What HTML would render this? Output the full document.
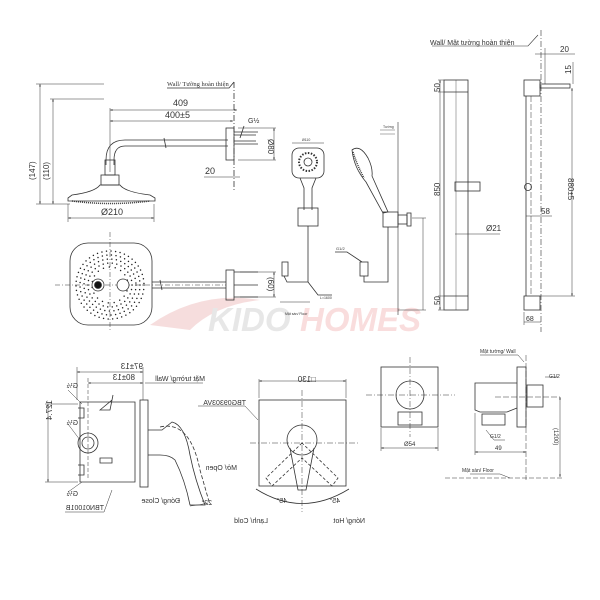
<!DOCTYPE html>
<html><head><meta charset="utf-8"><style>
html,body{margin:0;padding:0;background:#fff;}
svg{display:block;}
text{font-family:"Liberation Sans","DejaVu Sans",sans-serif;fill:#333;}
</style></head><body>
<svg width="600" height="600" viewBox="0 0 600 600" xmlns="http://www.w3.org/2000/svg">
<defs>
<marker id="a" viewBox="0 0 6 6" refX="6" refY="3" markerWidth="5" markerHeight="5" orient="auto-start-reverse"><path d="M0,1 L6,3 L0,5" fill="#333"/></marker>
</defs>
<!-- watermark -->
<g opacity="0.35">
<path d="M150,325 Q200,290 260,300 Q215,305 190,330 Z" fill="#e8a0a0"/>
<text x="208" y="331" font-size="33" font-style="italic" font-weight="bold" style="fill:#bbbbbb">KIDO</text>
<text x="300" y="331" font-size="33" font-style="italic" font-weight="bold" style="fill:#eea0a0">HOMES</text>
</g>
<g fill="none" stroke="#333" stroke-width="0.8">
<!-- ===== Rain shower side ===== -->
<line x1="234" y1="82" x2="234" y2="192" stroke-dasharray="6 2 1 2"/>
<path d="M167,88 L229,88 L234,82"/>
<line x1="110" y1="108" x2="110" y2="172" stroke-width="0.5"/>
<line x1="110" y1="110" x2="237" y2="110" marker-start="url(#a)" marker-end="url(#a)" stroke-width="0.5"/>
<line x1="110" y1="121" x2="233" y2="121" marker-start="url(#a)" marker-end="url(#a)" stroke-width="0.5"/>
<path d="M228,140 L125,140 Q106,140 106,160 L106,165 M228,146 L125,146 Q114,146 114,160 L114,165"/>
<path d="M164,138 L166,148"/>
<rect x="226" y="128" width="8" height="32"/>
<path d="M234,132 L258,132 M234,144 L258,144 M234,135 L256,135 M234,141 L256,141"/>
<path d="M244,126 L240,138"/>
<line x1="238" y1="128" x2="276" y2="128" stroke-width="0.5"/>
<line x1="238" y1="160" x2="276" y2="160" stroke-width="0.5"/>
<line x1="274" y1="128" x2="274" y2="160" marker-start="url(#a)" marker-end="url(#a)" stroke-width="0.5"/>
<line x1="204" y1="177" x2="240" y2="177" stroke-width="0.5"/>
<rect x="105" y="160" width="10" height="15"/>
<rect x="101" y="175" width="18" height="10"/>
<path d="M100,185 L120,185 Q125,192 150,195 L155,198 L155,201 L68,201 L68,198 L72,195 Q95,192 100,185 Z"/>
<path d="M72,201 Q110,206 150,201" stroke-dasharray="1 1" stroke-width="1.5"/>
<line x1="68" y1="204" x2="68" y2="222" stroke-width="0.5"/>
<line x1="154" y1="204" x2="154" y2="222" stroke-width="0.5"/>
<line x1="68" y1="218" x2="154" y2="218" marker-start="url(#a)" marker-end="url(#a)" stroke-width="0.5"/>
<line x1="36" y1="84" x2="104" y2="84" stroke-width="0.5"/>
<line x1="50" y1="99" x2="104" y2="99" stroke-width="0.5"/>
<line x1="36" y1="204" x2="70" y2="204" stroke-width="0.5"/>
<line x1="40" y1="84" x2="40" y2="204" marker-start="url(#a)" marker-end="url(#a)" stroke-width="0.5"/>
<line x1="53" y1="99" x2="53" y2="204" marker-start="url(#a)" marker-end="url(#a)" stroke-width="0.5"/>
<!-- rain bottom view -->
<rect x="70" y="243" width="82" height="82" rx="18"/>
<line x1="110" y1="232" x2="110" y2="332" stroke-dasharray="5 2 1 2" stroke-width="0.5"/>
<line x1="55" y1="285" x2="226" y2="285" stroke-dasharray="5 2 1 2" stroke-width="0.5"/>
<g stroke-width="1.5" stroke-linecap="round" stroke="#222">
<circle cx="110" cy="285" r="34" stroke-dasharray="0 4.6"/>
<circle cx="110" cy="285" r="30" stroke-dasharray="0 4.6"/>
<circle cx="110" cy="285" r="26" stroke-dasharray="0 4.6"/>
<circle cx="110" cy="285" r="22" stroke-dasharray="0 4.6"/>
<circle cx="110" cy="285" r="18" stroke-dasharray="0 6"/>
</g>
<circle cx="98" cy="285" r="6" fill="#fff"/><circle cx="98" cy="285" r="3.5" fill="#111"/>
<circle cx="123" cy="285" r="6" fill="#fff"/>
<path d="M152,282 L226,282 M152,288 L226,288 M160,280 L162,290"/>
<rect x="226" y="270" width="8" height="30"/>
<path d="M234,272 L258,272 M234,285 L258,285 M234,297 L258,297"/>
<line x1="240" y1="272" x2="276" y2="272" stroke-width="0.5"/>
<line x1="240" y1="297" x2="276" y2="297" stroke-width="0.5"/>
<line x1="274" y1="272" x2="274" y2="297" marker-start="url(#a)" marker-end="url(#a)" stroke-width="0.5"/>
<!-- ===== Hand shower front ===== -->
<rect x="292" y="148" width="32" height="30" rx="7"/>
<circle cx="308" cy="162" r="9" stroke-dasharray="1.5 1.5" stroke-width="2"/>
<circle cx="308" cy="162" r="4"/>
<path d="M300,178 L304,188 L304,210 M316,178 L312,188 L312,210"/>
<rect x="298" y="208" width="20" height="18"/>
<path d="M308,226 L308,282 L287,282 L284,276 M308,282 L318,295 L332,295"/>
<rect x="282" y="262" width="6" height="14"/>
<line x1="292" y1="143" x2="324" y2="143" stroke-width="0.5"/>
<line x1="280" y1="302" x2="310" y2="302" stroke-width="0.5"/>
<!-- side hand shower -->
<path d="M352,150 Q360,144 368,158 Q373,168 372,176 L388,212 L383,213 L366,182 Q354,168 352,150 Z"/>
<path d="M353,152 Q357,165 364,178" stroke-width="1.5" stroke-dasharray="1 1"/>
<rect x="383" y="212" width="15" height="15"/>
<rect x="398" y="215" width="9" height="9"/>
<rect x="407" y="213" width="4" height="13"/>
<line x1="398" y1="122" x2="398" y2="315" stroke-width="0.6"/>
<path d="M388,227 L388,282 L364,282 L364,276"/>
<rect x="360" y="262" width="8" height="14"/>
<path d="M335,252 L347,252 L362,262"/>
<line x1="412" y1="218" x2="426" y2="218" stroke-width="0.5"/>
<line x1="423" y1="218" x2="423" y2="310" stroke-width="0.5"/>
<line x1="398" y1="310" x2="426" y2="310" stroke-width="0.5"/>
<path d="M380,130 L395,130 M380,134 L395,134" stroke-width="0.4"/>
<!-- ===== Slide bar front ===== -->
<rect x="444" y="80" width="24" height="230"/>
<line x1="444" y1="92" x2="468" y2="92"/>
<line x1="444" y1="296" x2="468" y2="296"/>
<line x1="456" y1="80" x2="456" y2="310" stroke-width="0.4"/>
<rect x="455" y="182" width="25" height="9"/>
<path d="M444,80 L438,80 M444,92 L438,92 M444,296 L438,296 M444,310 L438,310" stroke-width="0.5"/>
<line x1="440" y1="80" x2="440" y2="310" stroke-width="0.5" marker-start="url(#a)" marker-end="url(#a)"/>
<line x1="455" y1="234" x2="500" y2="234" stroke-width="0.5"/>
<!-- slide bar side -->
<line x1="541" y1="30" x2="541" y2="332" stroke-dasharray="6 2 1 2" stroke-width="0.6"/>
<path d="M432,46 L528,46 L538,35" stroke-width="0.6"/>
<rect x="524" y="80" width="16" height="16"/>
<rect x="524" y="296" width="16" height="14"/>
<line x1="526" y1="96" x2="526" y2="296"/><line x1="531" y1="96" x2="531" y2="296" stroke-dasharray="6 2" stroke-width="0.5"/>
<circle cx="528" cy="187" r="3.5"/>
<rect x="540" y="84" width="30" height="4"/>
<line x1="540" y1="296" x2="575" y2="296" stroke-width="0.5"/>
<line x1="572" y1="88" x2="572" y2="296" marker-start="url(#a)" marker-end="url(#a)" stroke-width="0.5"/>
<line x1="573" y1="62" x2="573" y2="84" stroke-width="0.5"/>
<line x1="535" y1="54" x2="575" y2="54" stroke-width="0.5"/>
<line x1="545" y1="48" x2="545" y2="84" stroke-width="0.5"/>
<line x1="526" y1="216" x2="552" y2="216" stroke-width="0.5"/>
<line x1="524" y1="312" x2="524" y2="325" stroke-width="0.5"/>
<line x1="524" y1="322" x2="541" y2="322" stroke-width="0.5"/>
<!-- ===== Valve side ===== -->
<line x1="77" y1="367" x2="77" y2="400" stroke-width="0.5"/>
<line x1="143" y1="367" x2="143" y2="400" stroke-width="0.5"/>
<line x1="88" y1="378" x2="88" y2="480" stroke-width="0.5" stroke-dasharray="4 2"/>
<line x1="77" y1="372" x2="143" y2="372" marker-start="url(#a)" marker-end="url(#a)" stroke-width="0.5"/>
<line x1="88" y1="383" x2="143" y2="383" marker-start="url(#a)" marker-end="url(#a)" stroke-width="0.5"/>
<line x1="145" y1="383" x2="203" y2="383" stroke-width="0.5"/>
<path d="M80,402 L135,402 L135,482 L80,482 Z"/>
<path d="M78,408 L84,408 L84,418 L78,418 M78,465 L84,465 L84,475 L78,475"/>
<path d="M100,410 L112,400 L113,395 L110,410 Z M100,458 L112,458 L112,463 L100,463 Z"/>
<rect x="140" y="400" width="8" height="87"/>
<circle cx="88" cy="443" r="10"/><circle cx="88" cy="443" r="6"/>
<path d="M148,430 L162,430 L172,422 Q185,425 190,455 Q195,480 205,505 L190,505 Q185,480 175,460 Q170,455 160,455 L148,455"/>
<path d="M160,427 Q190,420 200,470 L210,505" stroke-dasharray="4 2"/>
<line x1="45" y1="404" x2="78" y2="404" stroke-width="0.5"/>
<line x1="45" y1="482" x2="78" y2="482" stroke-width="0.5"/>
<line x1="48" y1="404" x2="48" y2="482" marker-start="url(#a)" marker-end="url(#a)" stroke-width="0.5"/>
<path d="M68,390 L82,404 M68,424 L80,440 M68,492 L82,482 M65,512 L104,512 L112,490" stroke-width="0.5"/>
<path d="M190,506 Q200,505 208,503" stroke-width="0.5"/>
<!-- valve front -->
<rect x="259" y="400" width="87" height="86"/>
<line x1="259" y1="381" x2="346" y2="381" marker-start="url(#a)" marker-end="url(#a)" stroke-width="0.5"/>
<line x1="259" y1="379" x2="259" y2="398" stroke-width="0.5"/><line x1="346" y1="379" x2="346" y2="398" stroke-width="0.5"/>
<path d="M198,406 L245,406 L258,420" stroke-width="0.5"/>
<line x1="302" y1="390" x2="302" y2="512" stroke-dasharray="6 2 1 2" stroke-width="0.5"/>
<line x1="250" y1="443" x2="360" y2="443" stroke-dasharray="6 2 1 2" stroke-width="0.5"/>
<circle cx="302" cy="440" r="15"/>
<path d="M290,448 L298,490 L306,490 L314,448"/>
<path d="M302,443 L266,478 L272,486 L302,458 L332,486 L338,478 Z" stroke-dasharray="3 2"/>
<path d="M256,489 Q302,518 349,489" />
<!-- wall outlet front -->
<rect x="381" y="367" width="57" height="60"/>
<line x1="410" y1="357" x2="410" y2="437" stroke-dasharray="6 2 1 2" stroke-width="0.5"/>
<line x1="366" y1="395" x2="455" y2="395" stroke-dasharray="6 2 1 2" stroke-width="0.5"/>
<circle cx="410" cy="395" r="14"/>
<rect x="398" y="412" width="24" height="13"/>
<line x1="381" y1="428" x2="381" y2="451" stroke-width="0.5"/><line x1="438" y1="428" x2="438" y2="451" stroke-width="0.5"/>
<line x1="381" y1="448" x2="438" y2="448" marker-start="url(#a)" marker-end="url(#a)" stroke-width="0.5"/>
<!-- wall outlet side -->
<rect x="517" y="367" width="9" height="60"/>
<line x1="526" y1="355" x2="526" y2="480" stroke-dasharray="6 2" stroke-width="0.5"/>
<path d="M517,383 L475,383 L475,410 L480,412 L507,412 L517,408"/>
<rect x="482" y="414" width="23" height="11"/>
<rect x="527" y="385" width="16" height="22"/>
<path d="M480,355 L518,355 L524,362 M545,377 L558,377 M486,430 L494,440 L505,440 M470,474 L500,474 L510,478" stroke-width="0.5"/>
<line x1="495" y1="397" x2="560" y2="397" stroke-dasharray="6 2" stroke-width="0.5"/>
<line x1="445" y1="478" x2="563" y2="478" stroke-dasharray="5 2" stroke-width="0.5"/>
<line x1="560" y1="397" x2="560" y2="477" marker-start="url(#a)" marker-end="url(#a)" stroke-width="0.5"/>
<line x1="475" y1="413" x2="475" y2="455" stroke-width="0.5"/>
<line x1="475" y1="452" x2="526" y2="452" marker-start="url(#a)" marker-end="url(#a)" stroke-width="0.5"/>
</g>
<!-- texts -->
<g font-size="9">
<text x="167" y="86" font-size="6.5" style="font-family:'Liberation Serif',serif">Wall/ Tường hoàn thiện</text>
<text x="173" y="106">409</text>
<text x="165" y="118">400±5</text>
<text x="248" y="123" font-size="7">G½</text>
<text x="205" y="174">20</text>
<text x="101" y="215">Ø210</text>
<text transform="translate(35,180) rotate(-90)" font-size="8">(147)</text>
<text transform="translate(49,180) rotate(-90)" font-size="8">(110)</text>
<text transform="translate(268,139) rotate(90)" font-size="8">Ø80</text>
<text transform="translate(268,277) rotate(90)" font-size="8">(60)</text>
<text x="302" y="141" font-size="3.5">Ø110</text>
<text x="320" y="299" font-size="3.5">L=1600</text>
<text x="285" y="315" font-size="3.5">Mặt sàn/ Floor</text>
<text x="336" y="250" font-size="4">G1/2</text>
<text x="383" y="128" font-size="3.5">Tường</text>
<text x="430" y="45" font-size="7">Wall/ Mặt tường hoàn thiện</text>
<text transform="translate(440,92) rotate(-90)" font-size="8">50</text>
<text transform="translate(440,196) rotate(-90)" font-size="8">850</text>
<text transform="translate(440,305) rotate(-90)" font-size="8">50</text>
<text x="486" y="231" font-size="8">Ø21</text>
<text x="560" y="52" font-size="8">20</text>
<text transform="translate(571,74) rotate(-90)" font-size="8">15</text>
<text transform="translate(568,178) rotate(90)" font-size="8">880±5</text>
<text x="541" y="214" font-size="8">58</text>
<text x="526" y="321" font-size="7">68</text>
<g transform="scale(-1,1)">
<text x="-143" y="369" font-size="8">97±13</text>
<text x="-135" y="380" font-size="8">80±13</text>
<text x="-205" y="381" font-size="7">Mặt tường/ Wall</text>
<text x="-78" y="388" font-size="7">G½</text>
<text x="-78" y="425" font-size="7">G½</text>
<text x="-78" y="496" font-size="7">G½</text>
<text x="-104" y="510" font-size="7">TBN01001B</text>
<text x="-237" y="470" font-size="7">Mở/ Open</text>
<text x="-180" y="503" font-size="7">Đóng/ Close</text>
<text x="-212" y="505" font-size="7">22°</text>
<text x="-316" y="382" font-size="8">□130</text>
<text x="-246" y="405" font-size="7">TBG09303VA</text>
<text x="-287" y="503" font-size="7">45°</text>
<text x="-340" y="503" font-size="7">45°</text>
<text x="-268" y="523" font-size="7">Lạnh/ Cold</text>
<text x="-365" y="523" font-size="7">Nóng/ Hot</text>
</g>
<text transform="translate(52,420) rotate(-90) scale(-1,1)" font-size="8" x="-20">127.4</text>
<text x="480" y="353" font-size="5">Mặt tường/ Wall</text>
<text x="549" y="378" font-size="5">G1/2</text>
<text x="490" y="438" font-size="5">G1/2</text>
<text x="462" y="472" font-size="5">Mặt sàn/ Floor</text>
<text x="404" y="446" font-size="6">Ø54</text>
<text x="495" y="450" font-size="6">49</text>
<text transform="translate(554,428) rotate(90)" font-size="6">(1200)</text>
</g>
</svg>
</body></html>
